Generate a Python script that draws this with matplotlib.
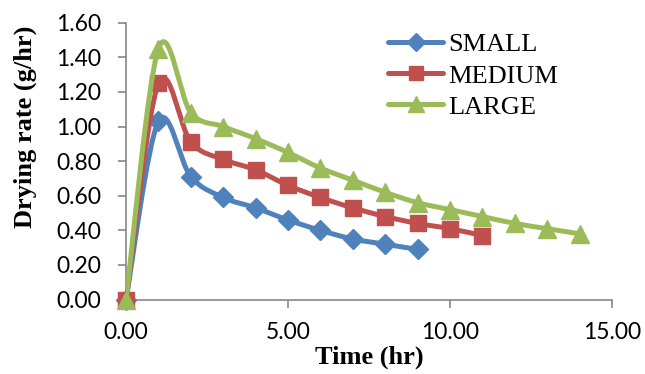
import matplotlib
matplotlib.use("Agg")
import matplotlib.pyplot as plt
from matplotlib.path import Path
from matplotlib.patches import PathPatch
from matplotlib.lines import Line2D
import numpy as np

# ---- data ----
time_small = [0, 1, 2, 3, 4, 5, 6, 7, 8, 9]
rate_small = [0.00, 1.03, 0.71, 0.59, 0.53, 0.46, 0.40, 0.35, 0.32, 0.29]

time_medium = [0, 1, 2, 3, 4, 5, 6, 7, 8, 9, 10, 11]
rate_medium = [0.00, 1.25, 0.91, 0.81, 0.75, 0.66, 0.59, 0.53, 0.48, 0.44, 0.41, 0.37]

time_large = [0, 1, 2, 3, 4, 5, 6, 7, 8, 9, 10, 11, 12, 13, 14]
rate_large = [0.00, 1.45, 1.08, 1.00, 0.93, 0.85, 0.76, 0.69, 0.62, 0.56, 0.52, 0.48, 0.44, 0.41, 0.38]

series_names = ["SMALL", "MEDIUM", "LARGE"]
x_ticks = [0, 5, 10, 15]
y_ticks = [0.0, 0.2, 0.4, 0.6, 0.8, 1.0, 1.2, 1.4, 1.6]

colors = ["#4F81BD", "#C0504D", "#9BBB59"]
markers = ["D", "s", "^"]
msizes = [10.5, 11, 13]

TICK_FONT = ["Lato", "DejaVu Sans"]
SERIF = ["Liberation Serif", "DejaVu Serif"]


def smooth_path(xs, ys):
    """Excel-like smoothed line: cubic Bezier with Catmull-Rom control points."""
    pts = np.column_stack([xs, ys]).astype(float)
    n = len(pts)
    verts = [pts[0]]
    codes = [Path.MOVETO]
    for i in range(n - 1):
        p0 = pts[i - 1] if i > 0 else pts[i]
        p1 = pts[i]
        p2 = pts[i + 1]
        p3 = pts[i + 2] if i + 2 < n else pts[i + 1]
        c1 = p1 + (p2 - p0) / 6.0
        c2 = p2 - (p3 - p1) / 6.0
        verts += [c1, c2, p2]
        codes += [Path.CURVE4] * 3
    return Path(verts, codes)


fig = plt.figure(figsize=(6.45, 3.74), dpi=100)
ax = fig.add_axes([126 / 645, 1 - 299.6 / 374, (612 - 126) / 645, (299.6 - 22.7) / 374])

data = [(time_small, rate_small), (time_medium, rate_medium), (time_large, rate_large)]
handles = []
for k, ((xs, ys), name) in enumerate(zip(data, series_names)):
    patch = PathPatch(smooth_path(xs, ys), facecolor="none", edgecolor=colors[k],
                      lw=3.6, capstyle="round", joinstyle="round", zorder=3 + 2 * k)
    ax.add_patch(patch)
    ax.plot(xs, ys, linestyle="none", marker=markers[k], ms=msizes[k],
            color=colors[k], markeredgecolor=colors[k], zorder=4 + 2 * k, clip_on=False)
    handles.append(Line2D([], [], color=colors[k], lw=3.6, marker=markers[k],
                          ms=msizes[k] * 0.9, solid_capstyle="round"))

ax.set_xlim(0, 15)
ax.set_ylim(0, 1.6)
ax.set_xticks(x_ticks)
ax.set_xticklabels([f"{v:.2f}" for v in x_ticks], fontfamily=TICK_FONT, fontsize=16.5)
ax.set_yticks(y_ticks)
ax.set_yticklabels([f"{v:.2f}" for v in y_ticks], fontfamily=TICK_FONT, fontsize=16.5)

for side in ["top", "right"]:
    ax.spines[side].set_visible(False)
for side in ["left", "bottom"]:
    ax.spines[side].set_color("#868686")
    ax.spines[side].set_linewidth(1.2)
ax.tick_params(axis="both", direction="out", length=6, width=1.2, color="#868686",
               labelcolor="black")
ax.tick_params(axis="y", pad=12)
ax.tick_params(axis="x", pad=10)

fig.text(25 / 645, 1 - 127 / 374, "Drying rate (g/hr)", rotation=90, ha="center", va="center",
         fontfamily=SERIF, fontweight="bold", fontsize=19)
fig.text(369 / 645, 1 - 357 / 374, "Time (hr)", ha="center", va="center",
         fontfamily=SERIF, fontweight="bold", fontsize=19)

leg = fig.legend(handles, series_names, loc="upper left",
                 bbox_to_anchor=(388 / 645, 1 - 33 / 374), frameon=False,
                 prop={"family": SERIF, "size": 19}, handlelength=2.1,
                 handletextpad=0.2, labelspacing=0.29, borderpad=0, borderaxespad=0)

fig.savefig("out.png", dpi=100)
